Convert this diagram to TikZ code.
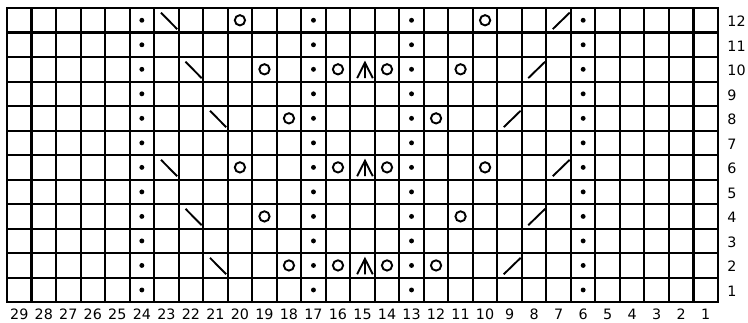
\documentclass[tikz,border=0pt]{standalone}
\usepackage{fontspec}
\setmainfont{DejaVu Sans}
\usetikzlibrary{positioning}

\tikzset{
  gridline/.style={line width=1.2pt,line cap=rect},
  symline/.style={line width=1.1pt},
  numlabel/.style={font=\fontsize{8.3}{9}\selectfont,inner sep=0pt},
}
% stitch symbols, cell given as {column}{row}
\newcommand{\stpurl}[2]{\fill (29.5-#1,#2-0.5) circle (0.1);}
\newcommand{\styo}[2]{\draw[symline] (29.5-#1,#2-0.5) circle (0.21);}
\newcommand{\stssk}[2]{\draw[symline,shift={(29.5-#1,#2-0.5)}] (-0.22,0.31) -- (0.44,-0.36);}
\newcommand{\stktog}[2]{\draw[symline,shift={(29.5-#1,#2-0.5)}] (-0.24,-0.36) -- (0.45,0.31);}
\newcommand{\stcdd}[2]{\draw[symline,shift={(29.6-#1,#2-0.5)}] (-0.32,-0.36) -- (0,0.27) -- (0.32,-0.36) (0,0.27) -- (0,-0.36);}

\begin{document}
\begin{tikzpicture}[x=0.5cm,y=0.5cm]
  \useasboundingbox (-0.286,-0.816) rectangle (30.224,12.327);

  % chart grid
  \foreach \i in {0,...,29}
    \draw[gridline] (\i,0) -- (\i,12);
  \foreach \j in {0,...,12}
    \draw[gridline] (0,\j) -- (29,\j);

  % row and stitch numbers
  \foreach \r in {1,...,12}
    \node[numlabel,anchor=west] (row\r) at (29.37,\r-0.55) {\r};
  \foreach \c in {1,...,29}
    \node[numlabel] (col\c) at (29.5-\c,-0.5) {\c};

  % purl columns
  \foreach \r in {1,...,12}
    \foreach \c in {24,17,13,6}
      {\stpurl{\c}{\r}}

  \foreach \c/\r in {23/12,22/10,21/8,23/6,22/4,21/2}
    {\stssk{\c}{\r}}
  \foreach \c/\r in {7/12,8/10,9/8,7/6,8/4,9/2}
    {\stktog{\c}{\r}}
  \foreach \c/\r in {20/12,10/12,19/10,16/10,14/10,11/10,18/8,12/8,
                     20/6,16/6,14/6,10/6,19/4,11/4,18/2,16/2,14/2,12/2}
    {\styo{\c}{\r}}
  \foreach \r in {10,6,2}
    {\stcdd{15}{\r}}
\end{tikzpicture}
\end{document}
